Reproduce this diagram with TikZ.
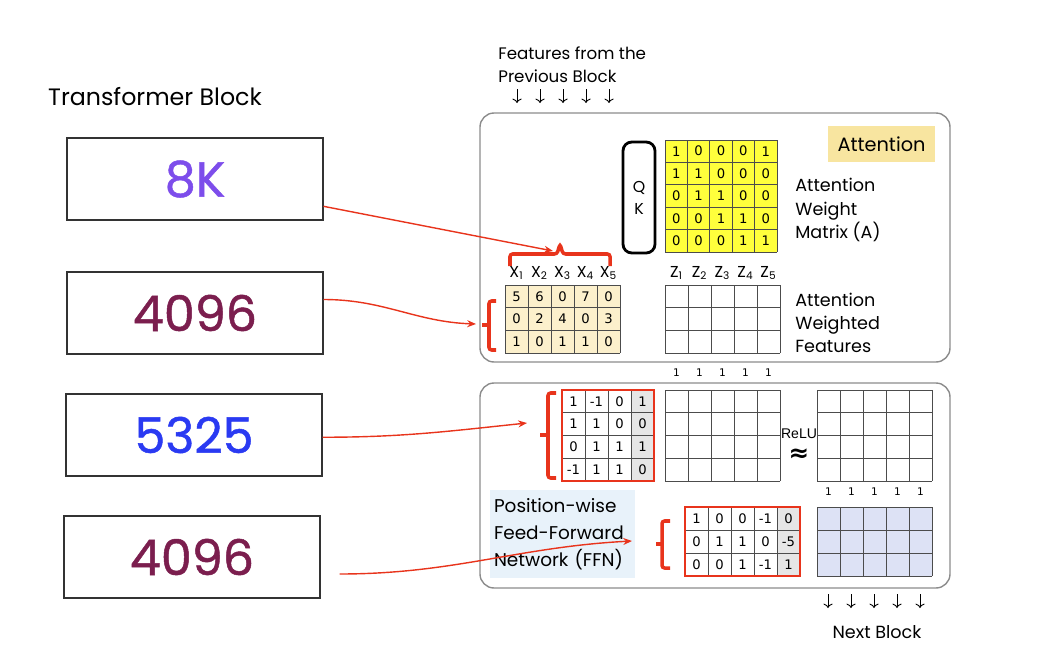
\documentclass[tikz,border=0pt]{standalone}
\usepackage{fontspec}
\newfontfamily\hand{Poppins}
\newfontfamily\handbig[FakeBold=1]{Poppins}
\newfontfamily\digits{DejaVu Sans}
\newfontfamily\arial{Liberation Sans}
\usetikzlibrary{arrows.meta,calc}
\definecolor{myred}{RGB}{232,52,28}
\definecolor{cpurple}{RGB}{125,77,235}
\definecolor{cmaroon}{RGB}{123,30,78}
\definecolor{cblue}{RGB}{42,58,242}
\definecolor{cyellow}{RGB}{255,255,60}
\definecolor{cbeige}{RGB}{252,240,204}
\definecolor{cattn}{RGB}{248,229,160}
\definecolor{cffn}{RGB}{232,242,250}
\definecolor{cblues}{RGB}{221,226,245}
\definecolor{cgray}{RGB}{230,230,230}
% grid of a matrix: x0, y0, cols, rows, cell width, cell height
\newcommand{\matgrid}[6]{%
  \foreach \i in {0,...,#3} \draw[gridline] ({#1+\i*#5},#2) -- ({#1+\i*#5},{#2+#4*#6});
  \foreach \j in {0,...,#4} \draw[gridline] (#1,{#2+\j*#6}) -- ({#1+#3*#5},{#2+\j*#6});
}
% entries of a matrix: x0, y0, cell width, cell height, name, rows
\newcommand{\matvals}[6]{%
  \foreach \row [count=\r] in {#6}
    \foreach \v [count=\c] in \row
      \node[cellnum] (#5-\r-\c) at ({#1+(\c-0.5)*#3},{#2+(\r-0.5)*#4}) {\v};
}
\tikzset{
  numbox/.style={draw=black!80, line width=0.6pt, minimum width=5.12cm, minimum height=1.64cm, inner sep=0pt, font=\handbig\fontsize{28}{30}\selectfont},
  cellnum/.style={font=\digits\fontsize{7.5}{8}\selectfont, inner sep=0pt},
  onelbl/.style={font=\digits\fontsize{6}{7}\selectfont, inner sep=0pt},
  sublbl/.style={font=\hand\fontsize{9}{10}\selectfont, inner sep=0pt},
  lbl/.style={font=\hand\fontsize{10}{13.3}\selectfont, anchor=west, inner sep=0pt, align=left},
  gridline/.style={draw=black!70, line width=0.5pt},
  redbrace/.style={draw=myred, line width=2pt, rounded corners=1.5pt},
  redframe/.style={draw=myred, line width=1.1pt},
  link/.style={draw=myred, line width=0.8pt, -{Stealth[length=5pt,width=4pt]}},
  outerbox/.style={draw=black!45, line width=0.8pt, rounded corners=8pt},
  downarr/.style={draw=black, line width=0.5pt, -{To[length=2.5pt]}},
}
\begin{document}
\begin{tikzpicture}[x=0.02cm,y=-0.02cm]
\useasboundingbox (0,0) rectangle (1048,666);
% left side
\node[font=\hand\fontsize{13.5}{15}\selectfont] (title) at (155,97) {Transformer Block};
\node[numbox, text=cpurple] (b8k) at (195,179) {8K};
\node[numbox, text=cmaroon] (b4096a) at (195,313) {4096};
\node[numbox, text=cblue] (b5325) at (194,435) {5325};
\node[numbox, text=cmaroon] (b4096b) at (192,557) {4096};
% the two blocks
\draw[outerbox] (480,113) rectangle (950,362);
\draw[outerbox] (480,383) rectangle (950,588);
\node[lbl, font=\hand\fontsize{9.5}{13}\selectfont] (feat) at (498,65) {Features from the\\Previous Block};
\foreach \x in {517,540,563,586,609} \draw[downarr] (\x,89) -- (\x,103);
% attention
\node[draw, line width=1.6pt, rounded corners=5pt, minimum width=0.64cm, minimum height=2.22cm, align=center, font=\hand\fontsize{9}{12.5}\selectfont] (qk) at (639,197.5) {Q\\K};
\fill[cyellow] (665,140) rectangle (777,252);
\matgrid{665}{140}{5}{5}{22.4}{22.4}
\matvals{665}{140}{22.4}{22.4}{wa}{{1,0,0,0,1},{1,1,0,0,0},{0,1,1,0,0},{0,0,1,1,0},{0,0,0,1,1}}
\node[fill=cattn, minimum width=2.14cm, minimum height=0.72cm, font=\hand\fontsize{11}{13}\selectfont] (attn) at (881.5,144) {Attention};
\node[lbl] (awm) at (795,210) {Attention\\Weight\\Matrix (A)};
\draw[redbrace] (510,266) |- (557,254) -- (560,244) -- (563,254) -| (610,266);
\foreach \i in {1,...,5} \node[sublbl] (xl\i) at ({505+(\i-0.5)*23},273) {X\textsubscript{\i}};
\fill[cbeige] (505,285) rectangle (620,353);
\matgrid{505}{285}{5}{3}{23}{22.67}
\matvals{505}{285}{23}{22.67}{xm}{{5,6,0,7,0},{0,2,4,0,3},{1,0,1,1,0}}
\draw[redbrace] (496,301) -| (489,350) -- (496,350);
\draw[redbrace] (489,325) -- (482,325);
\foreach \i in {1,...,5} \node[sublbl] (zl\i) at ({665+(\i-0.5)*23},273) {Z\textsubscript{\i}};
\matgrid{665}{285}{5}{3}{23}{22.67}
\node[lbl] (awf) at (795,323) {Attention\\Weighted\\Features};
\foreach \i in {1,...,5} \node[onelbl] (oa\i) at ({665+(\i-0.5)*23},373) {1};
% feed-forward
\fill[cgray] (631,390) rectangle (654,481);
\matgrid{562}{390}{4}{4}{23}{22.75}
\matvals{562}{390}{23}{22.75}{wf}{{1,-1,0,1},{1,1,0,0},{0,1,1,1},{-1,1,1,0}}
\draw[redframe] (562,390) rectangle (654,481);
\draw[redbrace] (556,393) -| (548,478) -- (556,478);
\draw[redbrace] (548,435) -- (540,435);
\matgrid{665}{390}{5}{4}{23}{22.75}
\node[font=\arial\fontsize{8}{9}\selectfont, inner sep=0pt] (relu) at (799,434) {ReLU};
\node[font=\digits\bfseries\fontsize{14}{14}\selectfont, inner sep=0pt] (approx) at (799,455) {≈};
\matgrid{817}{390}{5}{4}{23}{22.75}
\foreach \i in {1,...,5} \node[onelbl] (ob\i) at ({817+(\i-0.5)*23},492) {1};
\node[fill=cffn, text width=2.74cm, inner xsep=0.08cm, minimum height=1.76cm, align=left, font=\hand\fontsize{10.5}{15.3}\selectfont] (ffn) at (562.5,534) {Position-wise\\Feed-Forward\\Network (FFN)};
\draw[redbrace] (670,521) -| (662,568) -- (670,568);
\draw[redbrace] (662,544) -- (656,544);
\fill[cgray] (777,507) rectangle (800,576);
\matgrid{685}{507}{5}{3}{23}{23}
\matvals{685}{507}{23}{23}{bf}{{1,0,0,-1,0},{0,1,1,0,-5},{0,0,1,-1,1}}
\draw[redframe] (685,507) rectangle (800,576);
\fill[cblues] (817,507) rectangle (932,576);
\matgrid{817}{507}{5}{3}{23}{23}
\foreach \x in {828,851,874,897,920} \draw[downarr] (\x,594) -- (\x,608);
\node[font=\hand\fontsize{10}{12}\selectfont] (next) at (877,632) {Next Block};
% connectors
\coordinate (xtop) at (553,251);
\coordinate (xtip) at (476,324);
\coordinate (wtip) at (527,423);
\coordinate (ftip) at (632,541);
\draw[link] (b8k.-12) -- (xtop);
\draw[link] (b4096a.6) to[out=0,in=178] (xtip);
\draw[link] (b5325.-1) to[out=0,in=186] (wtip);
\draw[link] ($(b4096b.east)+(19,17)$) to[out=0,in=183] (ftip);
\end{tikzpicture}
\end{document}
